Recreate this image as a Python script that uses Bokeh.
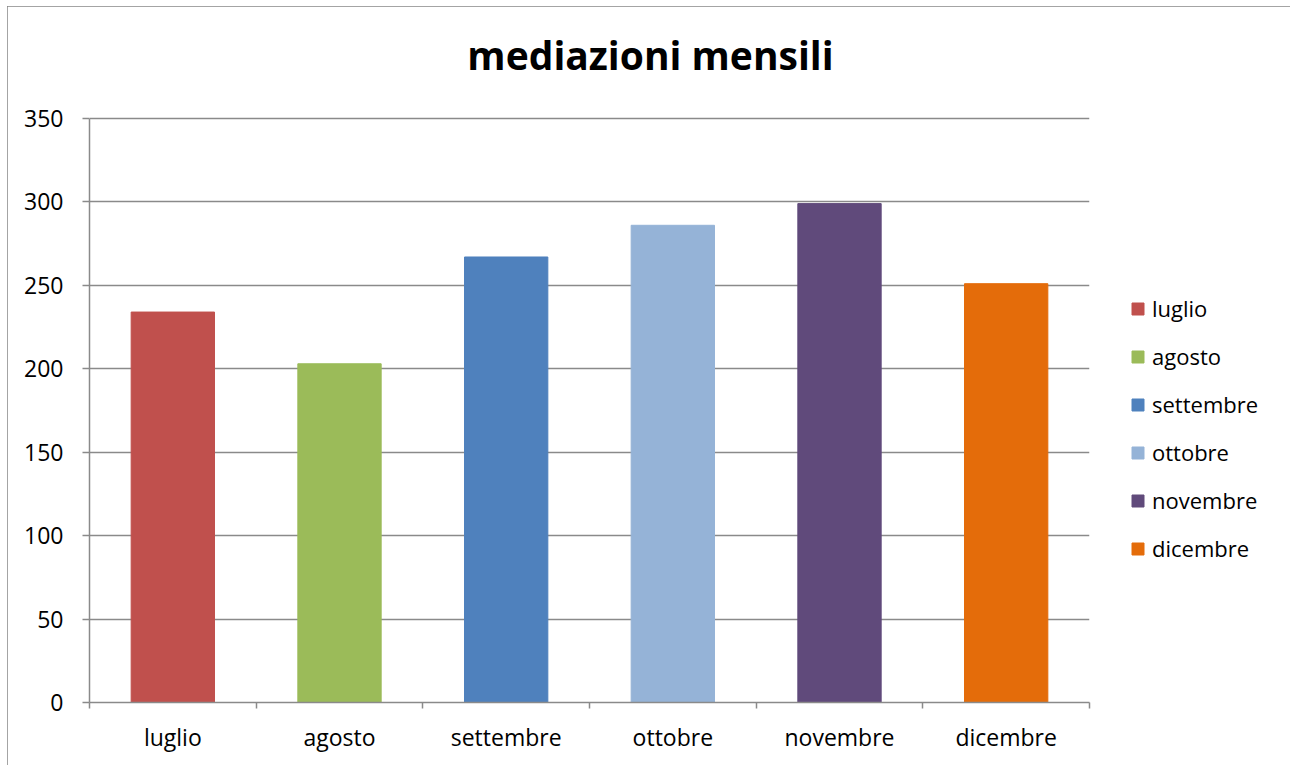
from bokeh.plotting import figure
from bokeh.models import (ColumnDataSource, FixedTicker, Legend, LegendItem, Range1d, Label)
from bokeh.embed import file_html
from bokeh.resources import INLINE

months = ["luglio", "agosto", "settembre", "ottobre", "novembre", "dicembre"]
values = [234, 203, 267, 286, 299, 251]
colors = ["#C0504D", "#9BBB59", "#4F81BD", "#95B3D7", "#604A7B", "#E46C0A"]
y_ticks = [0, 50, 100, 150, 200, 250, 300, 350]
title_text = "mediazioni mensili"

FONT = "Open Sans"
GRID = "#8a8a8a"

AXIS_MAX = 350
AXIS_PX = 584          # pixel height of the 0..350 span
FRAME_H = 668          # frame also holds the title area above 350
Y_END = AXIS_MAX * FRAME_H / AXIS_PX

centers = [i + 0.5 for i in range(len(months))]
src = ColumnDataSource(dict(x=centers, top=values, color=colors, month=months))

p = figure(width=1283, height=759, output_backend="svg", toolbar_location=None,
           x_range=Range1d(0, len(months)), y_range=Range1d(0, Y_END),
           min_border_left=82, min_border_right=201, min_border_top=28, min_border_bottom=63,
           frame_width=1000, frame_height=FRAME_H)
p.styles = {"outline": "1px solid #868686", "outline-offset": "-1px",
            "margin-left": "7px", "margin-top": "6px"}
p.outline_line_color = None
p.background_fill_color = "white"
p.border_fill_color = "white"

r = p.vbar(x="x", top="top", width=0.5, color="color", source=src)

# title, centred over the whole chart
title = Label(x=3.366, y=388.5, text=title_text, text_font=FONT, text_font_size="39px",
              text_font_style="bold", text_color="#000000", text_align="center",
              text_baseline="alphabetic")
p.add_layout(title)

# y axis
p.yaxis.ticker = FixedTicker(ticks=y_ticks)
p.yaxis.bounds = (0, AXIS_MAX)
p.yaxis.axis_line_color = GRID
p.yaxis.axis_line_width = 1.5
p.yaxis.major_tick_line_color = GRID
p.yaxis.major_tick_line_width = 1.5
p.yaxis.major_tick_out = 7
p.yaxis.major_tick_in = 0
p.yaxis.minor_tick_line_color = None
p.yaxis.major_label_text_font = FONT
p.yaxis.major_label_text_font_size = "23px"
p.yaxis.major_label_text_color = "#000000"
p.yaxis.major_label_standoff = 19

# x axis
p.xaxis.ticker = FixedTicker(ticks=centers, minor_ticks=list(range(len(months) + 1)))
p.xaxis.major_label_overrides = {c: m for c, m in zip(centers, months)}
p.xaxis.axis_line_color = GRID
p.xaxis.axis_line_width = 1.5
p.xaxis.major_tick_line_color = None
p.xaxis.minor_tick_line_color = GRID
p.xaxis.minor_tick_line_width = 1.5
p.xaxis.minor_tick_out = 6
p.xaxis.minor_tick_in = 0
p.xaxis.major_label_text_font = FONT
p.xaxis.major_label_text_font_size = "23px"
p.xaxis.major_label_text_color = "#000000"
p.xaxis.major_label_standoff = 12

p.xgrid.grid_line_color = None
p.ygrid.ticker = FixedTicker(ticks=y_ticks)
p.ygrid.grid_line_color = GRID
p.ygrid.grid_line_width = 1.5

items = [LegendItem(label=m, renderers=[r], index=i) for i, m in enumerate(months)]
legend = Legend(items=items, location=(41, 139), glyph_width=15, glyph_height=15,
                label_height=20, spacing=18, padding=0, margin=0, label_standoff=7,
                border_line_color=None, background_fill_alpha=0,
                label_text_font=FONT, label_text_font_size="22px", label_text_color="#000000")
p.add_layout(legend, "right")

open("out.html", "w").write(file_html(p, INLINE))
